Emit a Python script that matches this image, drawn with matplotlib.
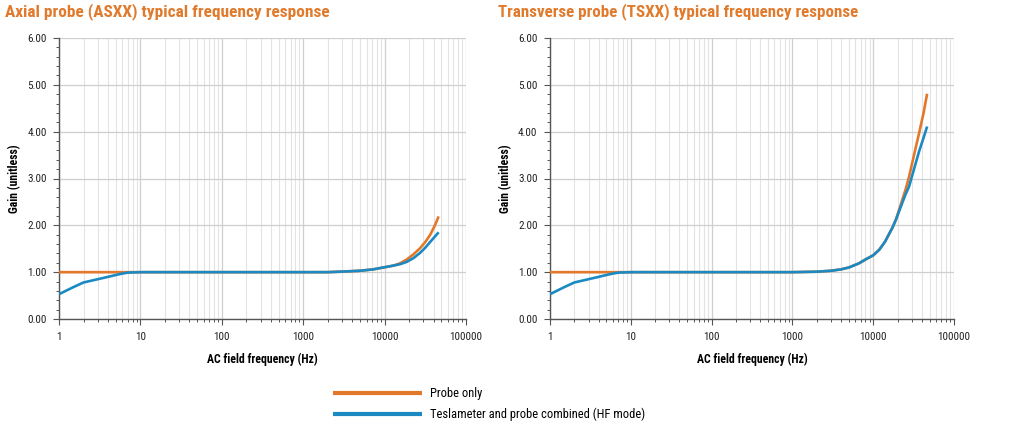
import matplotlib
matplotlib.use("Agg")
import matplotlib.pyplot as plt
from matplotlib.ticker import LogLocator, MultipleLocator, FixedLocator, FixedFormatter
from matplotlib import font_manager

# pick a narrow font if one is installed
names = set(f.name for f in font_manager.fontManager.ttflist)
stretch = 'normal'
family = 'Roboto'
for cand in ["Roboto Condensed", "Liberation Sans Narrow", "Open Sans Condensed"]:
    if cand in names:
        family = cand
        break
else:
    for f in font_manager.fontManager.ttflist:
        if f.name == 'DejaVu Sans' and 'ondensed' in str(f.stretch) or 'Condensed' in f.fname and f.name == 'DejaVu Sans':
            family = 'DejaVu Sans'
            stretch = 'condensed'
            break
plt.rcParams['font.family'] = [family, 'DejaVu Sans']
plt.rcParams['font.stretch'] = stretch

ORANGE = '#E3782B'
BLUE = '#1B8AC3'
TITLE_COLOR = '#E07A2C'

# Axial probe (ASXX)
ax_freq = [1, 1.5, 2, 3, 4, 5, 6, 7, 10, 100, 1000, 2000, 2830, 5000, 7250,
           9640, 12800, 15500, 18700, 22600, 27200, 31500, 36100, 41000, 46100]
ax_probe = [1.00, 1.00, 1.00, 1.00, 1.00, 1.00, 1.00, 1.00, 1.00, 1.00, 1.00, 1.00, 1.01, 1.03, 1.06,
            1.10, 1.14, 1.19, 1.27, 1.38, 1.51, 1.64, 1.79, 1.98, 2.19]
ax_comb = [0.53, 0.68, 0.78, 0.85, 0.90, 0.94, 0.97, 0.99, 1.00, 1.00, 1.00, 1.00, 1.01, 1.03, 1.06,
           1.10, 1.14, 1.17, 1.22, 1.30, 1.41, 1.52, 1.64, 1.75, 1.85]

# Transverse probe (TSXX)
tr_freq = [1, 1.5, 2, 3, 4, 5, 6, 7, 10, 100, 1000, 2000, 3000, 4000, 5000, 6700,
           8000, 10000, 11900, 14000, 17300, 19100, 22000, 25000, 27800, 32000, 37000, 42000, 46500]
tr_probe = [1.00, 1.00, 1.00, 1.00, 1.00, 1.00, 1.00, 1.00, 1.00, 1.00, 1.00, 1.01, 1.03, 1.06, 1.10, 1.19,
            1.27, 1.36, 1.48, 1.65, 1.95, 2.12, 2.45, 2.75, 3.04, 3.50, 3.97, 4.40, 4.81]
tr_comb = [0.53, 0.68, 0.78, 0.85, 0.90, 0.94, 0.97, 0.99, 1.00, 1.00, 1.00, 1.01, 1.03, 1.06, 1.10, 1.19,
           1.27, 1.36, 1.48, 1.65, 1.95, 2.12, 2.40, 2.65, 2.83, 3.20, 3.58, 3.87, 4.11]

titles = ["Axial probe (ASXX) typical frequency response",
          "Transverse probe (TSXX) typical frequency response"]
x_ticks = [1, 10, 100, 1000, 10000, 100000]
x_labels = ["1", "10", "100", "1000", "10000", "100000"]
legend_labels = ["Probe only", "Teslameter and probe combined (HF mode)"]

fig = plt.figure(figsize=(10.12, 4.32), dpi=100)
ax1 = fig.add_axes([59/1012, 113/432, 407/1012, 281/432])
ax2 = fig.add_axes([550/1012, 113/432, 404/1012, 281/432])

data = [(ax_freq, ax_probe, ax_comb), (tr_freq, tr_probe, tr_comb)]
title_x = [5, 498]
title_w = [325, 362]

renderer = fig.canvas.get_renderer()
for i, ax in enumerate([ax1, ax2]):
    f, p, c = data[i]
    ax.plot(f, p, color=ORANGE, lw=1.9, solid_capstyle='butt', zorder=3, label=legend_labels[0])
    ax.plot(f, c, color=BLUE, lw=1.9, solid_capstyle='butt', zorder=4, label=legend_labels[1])
    ax.set_xscale('log')
    ax.set_xlim(1, 100000)
    ax.set_ylim(0, 6)
    ax.xaxis.set_major_locator(FixedLocator(x_ticks))
    ax.xaxis.set_major_formatter(FixedFormatter(x_labels))
    ax.xaxis.set_minor_locator(LogLocator(base=10, subs=range(2, 10)))
    ax.xaxis.set_minor_formatter(plt.NullFormatter())
    ax.yaxis.set_major_locator(MultipleLocator(1))
    ax.yaxis.set_minor_locator(MultipleLocator(0.2))
    ax.yaxis.set_major_formatter(plt.FuncFormatter(lambda v, pos: "%.2f" % v))
    ax.grid(True, which='major', axis='both', color='#cfcfcf', lw=0.9)
    ax.grid(True, which='minor', axis='x', color='#e3e3e3', lw=0.8)
    ax.set_axisbelow(True)
    for s in ['top', 'right']:
        ax.spines[s].set_visible(False)
    for s in ['left', 'bottom']:
        ax.spines[s].set_color('#555555')
        ax.spines[s].set_linewidth(1.0)
    ax.tick_params(which='major', length=4, width=0.8, color='#555555', labelsize=8, labelcolor='#222222', pad=5)
    ax.tick_params(which='minor', length=2.5, width=0.7, color='#555555')
    ax.set_ylabel("Gain (unitless)", fontsize=8.5, fontweight='bold', labelpad=4)
    ax.set_xlabel("AC field frequency (Hz)", fontsize=8.5, fontweight='bold', labelpad=8)
    t = fig.text(title_x[i]/1012, 1 - 16/432, titles[i], fontsize=12, fontweight='bold',
                 color=TITLE_COLOR, va='baseline', ha='left')
    # shrink title to the width it has in the reference
    w = t.get_window_extent(renderer).width
    t.set_fontsize(12 * title_w[i] / w)

handles, labels = ax1.get_legend_handles_labels()
leg = fig.legend(handles, labels, loc='upper left', bbox_to_anchor=(333/1012, 1 - 387/432),
                 frameon=False, fontsize=9, handlelength=7.1, handletextpad=0.65,
                 labelspacing=0.6, borderpad=0, borderaxespad=0)
for line in leg.get_lines():
    line.set_linewidth(3)

fig.savefig("out.png", dpi=100)
